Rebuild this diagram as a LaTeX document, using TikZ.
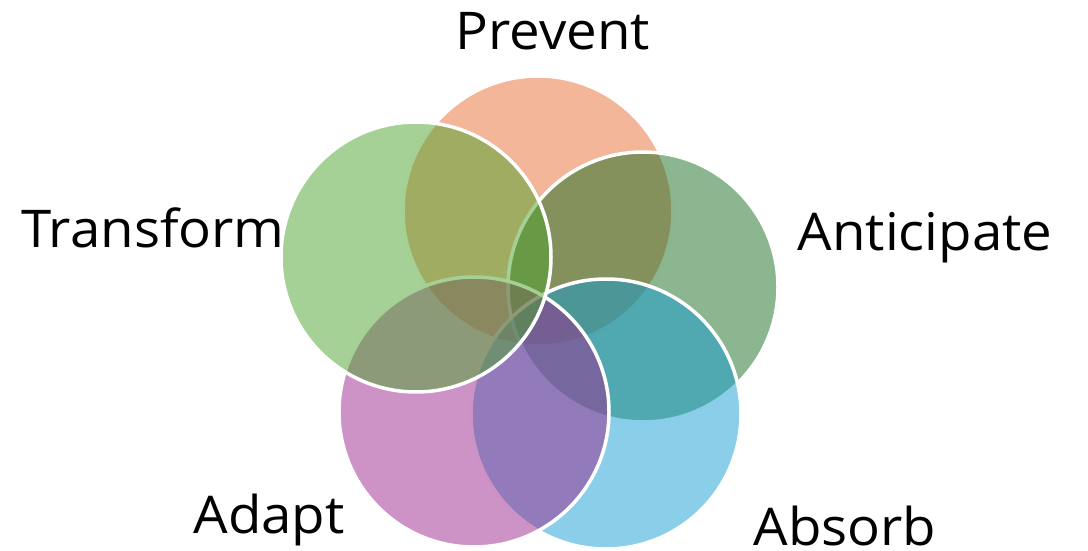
\documentclass[tikz,border=0pt]{standalone}
\usepackage{fontspec}
\setmainfont{Open Sans}[FakeStretch=1.05]
\usetikzlibrary{shapes.geometric}
\definecolor{preventc}{RGB}{231,109,51}
\definecolor{anticipatec}{RGB}{25,109,33}
\definecolor{absorbc}{RGB}{21,157,211}
\definecolor{adaptc}{RGB}{157,39,141}
\definecolor{transformc}{RGB}{77,163,45}
\begin{document}
\begin{tikzpicture}[x=1pt,y=-1pt,
ring/.style={circle,draw=white,line width=3.5pt,inner sep=0pt,
minimum size=270pt,fill opacity=0.5},
tag/.style={anchor=base,inner sep=0pt,text depth=0pt,
font=\fontsize{52}{60}\selectfont}]
\useasboundingbox (0,0) rectangle (1088,551);
\node[ring,fill=preventc] (prevent) at (538,211) {};
\node[ring,fill=anticipatec] (anticipate) at (643,287) {};
\node[ring,fill=absorbc] (absorb) at (606,414) {};
\node[ring,fill=adaptc] (adapt) at (474,412) {};
\node[ring,fill=transformc] (transform) at (416,257) {};
\node[tag] (prevent-tag) at (553,50) {Prevent};
\node[tag] (anticipate-tag) at (925,250) {Anticipate};
\node[tag] (absorb-tag) at (845,545) {Absorb};
\node[tag] (adapt-tag) at (269,533) {Adapt};
\node[tag] (transform-tag) at (153,247) {Transform};
\end{tikzpicture}
\end{document}
